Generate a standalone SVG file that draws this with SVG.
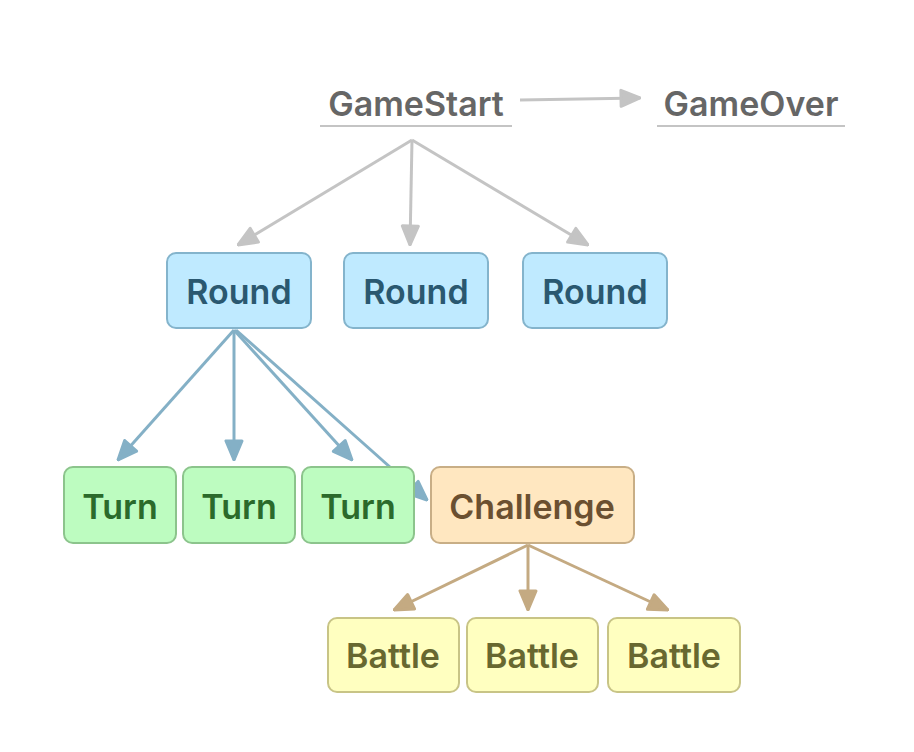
<svg xmlns="http://www.w3.org/2000/svg" width="914" height="752" viewBox="0 0 914 752">
<defs>
<style>
text{font-family:Inter,"Noto Sans","Liberation Sans",sans-serif;font-size:34px;font-weight:600;text-anchor:middle}
.g{fill:#666666}
.r rect{fill:#bfeaff;stroke:#84b4cc;stroke-width:2}
.r text{fill:#2a5870}
.t rect{fill:#bdfcc0;stroke:#8cc48c;stroke-width:2}
.t text{fill:#2b6a2b}
.c rect{fill:#ffe7c0;stroke:#c8ae86;stroke-width:2}
.c text{fill:#6b5030}
.b rect{fill:#ffffc0;stroke:#c8c486;stroke-width:2}
.b text{fill:#686830}
.eg{stroke:#c4c4c4;stroke-width:3;fill:none}
.eb{stroke:#84b0c6;stroke-width:3;fill:none}
.et{stroke:#c4aa82;stroke-width:3;fill:none}
</style>
<marker id="ag" viewBox="0 0 22 20" refX="21" refY="10" markerWidth="22" markerHeight="20" markerUnits="userSpaceOnUse" orient="auto"><path d="M2,2 L21,10 L2,18 z" fill="#c4c4c4" stroke="#c4c4c4" stroke-width="3" stroke-linejoin="round"/></marker>
<marker id="ab" viewBox="0 0 22 20" refX="21" refY="10" markerWidth="22" markerHeight="20" markerUnits="userSpaceOnUse" orient="auto"><path d="M2,2 L21,10 L2,18 z" fill="#84b0c6" stroke="#84b0c6" stroke-width="3" stroke-linejoin="round"/></marker>
<marker id="at" viewBox="0 0 22 20" refX="21" refY="10" markerWidth="22" markerHeight="20" markerUnits="userSpaceOnUse" orient="auto"><path d="M2,2 L21,10 L2,18 z" fill="#c4aa82" stroke="#c4aa82" stroke-width="3" stroke-linejoin="round"/></marker>
</defs>
<rect width="914" height="752" fill="#ffffff"/>
<g id="connectors">
<line class="eg" x1="520" y1="100" x2="640" y2="98" marker-end="url(#ag)"/>
<line class="eg" x1="412" y1="140" x2="238" y2="245" marker-end="url(#ag)"/>
<line class="eg" x1="412" y1="140" x2="410" y2="245" marker-end="url(#ag)"/>
<line class="eg" x1="412" y1="140" x2="588" y2="245" marker-end="url(#ag)"/>
<line class="eb" x1="234" y1="330" x2="118" y2="460" marker-end="url(#ab)"/>
<line class="eb" x1="234" y1="330" x2="234" y2="460" marker-end="url(#ab)"/>
<line class="eb" x1="234" y1="330" x2="352" y2="460" marker-end="url(#ab)"/>
<line class="eb" x1="236" y1="330" x2="427" y2="500" marker-end="url(#ab)"/>
<line class="et" x1="528" y1="545" x2="394" y2="610" marker-end="url(#at)"/>
<line class="et" x1="528" y1="545" x2="528" y2="610" marker-end="url(#at)"/>
<line class="et" x1="528" y1="545" x2="668" y2="610" marker-end="url(#at)"/>
</g>
<g id="GameStart"><text class="g" x="416" y="116">GameStart</text><line x1="320" y1="126" x2="512" y2="126" stroke="#c4c4c4" stroke-width="2"/></g>
<g id="GameOver"><text class="g" x="751" y="116">GameOver</text><line x1="657" y1="126" x2="845" y2="126" stroke="#c4c4c4" stroke-width="2"/></g>
<g id="Round1" class="r"><rect x="167" y="253" width="144" height="75" rx="9"/><text x="239" y="304">Round</text></g>
<g id="Round2" class="r"><rect x="344" y="253" width="144" height="75" rx="9"/><text x="416" y="304">Round</text></g>
<g id="Round3" class="r"><rect x="523" y="253" width="144" height="75" rx="9"/><text x="595" y="304">Round</text></g>
<g id="Turn1" class="t"><rect x="64" y="467" width="112" height="76" rx="9"/><text x="120" y="519">Turn</text></g>
<g id="Turn2" class="t"><rect x="183" y="467" width="112" height="76" rx="9"/><text x="239" y="519">Turn</text></g>
<g id="Turn3" class="t"><rect x="302" y="467" width="112" height="76" rx="9"/><text x="358" y="519">Turn</text></g>
<g id="Challenge" class="c"><rect x="431" y="467" width="203" height="76" rx="9"/><text x="532" y="519">Challenge</text></g>
<g id="Battle1" class="b"><rect x="328" y="618" width="131" height="74" rx="9"/><text x="393" y="668">Battle</text></g>
<g id="Battle2" class="b"><rect x="467" y="618" width="131" height="74" rx="9"/><text x="532" y="668">Battle</text></g>
<g id="Battle3" class="b"><rect x="608" y="618" width="132" height="74" rx="9"/><text x="674" y="668">Battle</text></g>
</svg>
